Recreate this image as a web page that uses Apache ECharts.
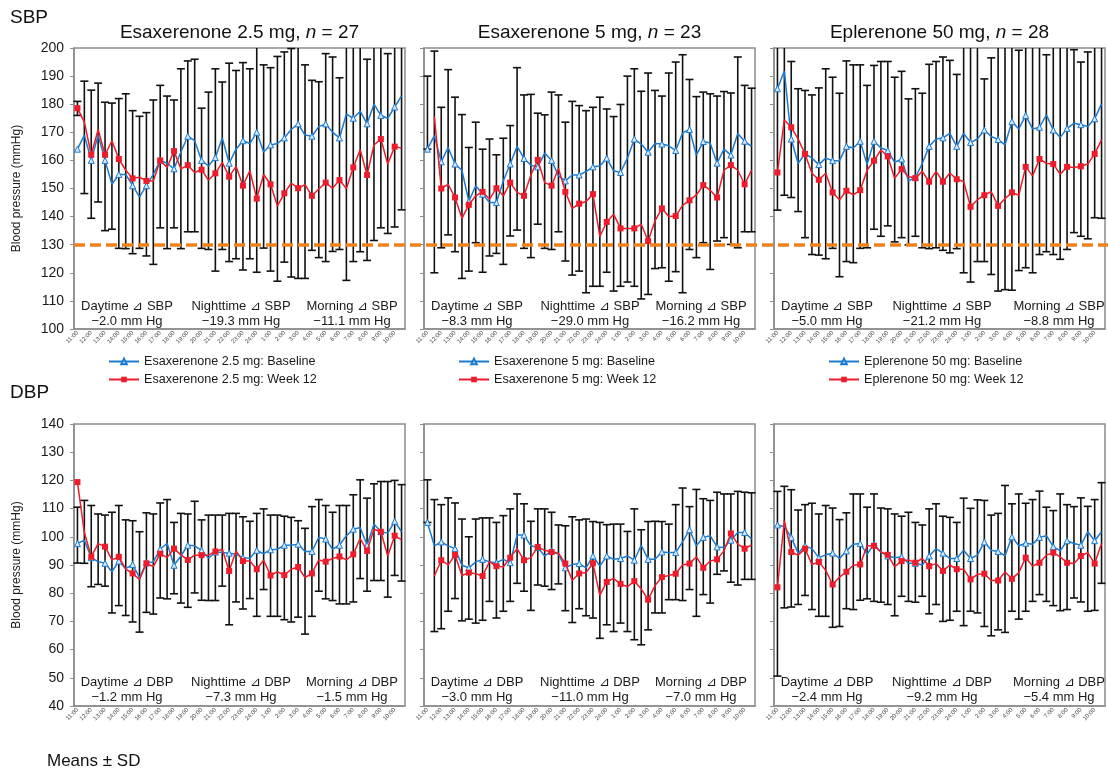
<!DOCTYPE html>
<html lang="en">

<head>
  <meta charset="UTF-8">
  <title>Ambulatory blood pressure</title>
  <style media="screen">
    html, body { margin: 0; padding: 0; background: #fff; }
  </style>
</head>

<body>
  <div id="main" style="width:1108px;height:772px;"></div>
</body>
<script src="https://cdn.jsdelivr.net/npm/echarts@6/dist/echarts.min.js"></script>

<script>
  // half-hour time points, 11:00 .. 10:30
  var hours = ['11:00', '11:30', '12:00', '12:30', '13:00', '13:30', '14:00', '14:30', '15:00', '15:30',
    '16:00', '16:30', '17:00', '17:30', '18:00', '18:30', '19:00', '19:30', '20:00', '20:30',
    '21:00', '21:30', '22:00', '22:30', '23:00', '23:30', '24:00', '24:30', '1:00', '1:30',
    '2:00', '2:30', '3:00', '3:30', '4:00', '4:30', '5:00', '5:30', '6:00', '6:30',
    '7:00', '7:30', '8:00', '8:30', '9:00', '9:30', '10:00', '10:30'];

  var sbpTicks = [100, 200, 10];
  var dbpTicks = [40, 140, 10];
  var targetSbp = 130;

  // SBP, esaxerenone 2.5 mg
  var sbpEsa25Base = [164, 169, 160, 169, 160, 151.5, 155, 155, 151, 147, 151, 155, 160, 159, 157, 163, 168.6, 167, 160, 158, 161, 168, 159, 164, 167, 166, 170, 163, 165.5, 166, 168, 171, 173, 169, 168.6, 172, 173, 170, 168, 176.5, 175, 177.5, 173, 180, 176, 175, 179, 183];
  var sbpEsa25Wk12 = [178.6, 173.6, 162, 171, 162, 167, 160.5, 156.5, 153.6, 154, 152.7, 152.7, 160, 157.5, 163.3, 157, 158.3, 155.7, 156.7, 153, 155.4, 159.3, 154.2, 157.9, 151, 156.3, 146.4, 155, 151.5, 143.8, 148.3, 151.9, 150.1, 151.4, 147.4, 149.8, 152.1, 150.1, 153, 150, 157.5, 163.8, 154.8, 165.5, 167.6, 158.7, 164.9, 164.4];
  var sbpEsa25Hi = [181, 188.2, 185, 187.5, 180.7, 180.4, 182, 183.7, 177.7, 175.7, 177, 181.5, 186.7, 182.9, 181.5, 192.6, 195.4, 196, 178.6, 184.3, 192.6, 187.9, 194.6, 192, 194.8, 192.6, 203, 194, 193, 197, 198.6, 199.8, 201, 194, 188.5, 188, 198, 196.8, 189.4, 204, 206, 203, 196, 205, 200.7, 198, 204, 208];
  var sbpEsa25Lo = [176, 148.2, 139.4, 145.2, 135, 135.5, 128.7, 128.6, 126.8, 128.7, 126, 123, 136, 128.6, 136, 128.6, 134.6, 134.6, 128.7, 128.3, 120.6, 128.3, 124, 125, 121, 125, 120.2, 128.8, 120.6, 117, 123.8, 118.5, 118, 118, 128, 125.4, 124, 127.6, 128.3, 117.3, 124, 127.5, 124.4, 131.5, 136, 134, 136.3, 142.4];

  // SBP, esaxerenone 5 mg
  var sbpEsa5Base = [164, 168.8, 159.5, 164.6, 158.7, 156.5, 145.4, 151, 148, 145, 145, 152.7, 158.7, 165, 160.7, 158.3, 157.7, 162.6, 160, 154.5, 152.7, 154.8, 154.8, 156, 157.7, 158, 160.8, 156.3, 155.7, 160.8, 167.6, 165.8, 162.9, 166, 165.8, 165.2, 163.5, 169.8, 171, 161.9, 166.7, 166.2, 159, 164, 161.9, 169.6, 166.8, 165];
  var sbpEsa5Wk12 = [null, 175.6, 150, 151.5, 146.8, 139.4, 144.2, 147.4, 148.8, 146.2, 150.1, 147.4, 152.1, 148.6, 147.4, 154.8, 160.2, 152.1, 151, 157.1, 148.8, 142.9, 144.6, 145.4, 148, 132.9, 138.1, 140.8, 135.8, 135.8, 135.8, 137.3, 131.3, 138.5, 142.9, 140, 140.2, 144, 145.8, 147.7, 151.2, 149.4, 146.8, 156.5, 158.3, 156.5, 151.5, 156.5];
  var sbpEsa5Hi = [190, 198.9, 178.9, 192.3, 182.5, 176.3, 164.6, 173.6, 164, 167.6, 162, 167.9, 172.4, 193, 183.3, 183.5, 176.8, 176.2, 184.3, 183.3, 173.6, 181, 179.5, 177.7, 178.9, 182.5, 178.3, 175.6, 179.9, 190, 192.6, 184.6, 191.1, 184.9, 182.9, 191.1, 195, 197.6, 188.8, 182.7, 184.3, 183.7, 182.9, 184.5, 184, 196.8, 186.7, 185.7];
  var sbpEsa5Lo = [164, 120, 128.9, 133.5, 127.5, 118, 120.6, 130.7, 120.2, 126, 126.9, 123, 133.1, 135.2, 128.7, 125.4, 137.3, 128.7, 128.3, 134.6, 124.2, 119.2, 120.6, 112.9, 115.2, 115.2, 120.2, 113.5, 115.2, 116.7, 115.2, 110.7, 112.3, 121.5, 121.8, 117, 120.4, 112.9, 128.3, 125.4, 130.7, 121.2, 131.3, 132.5, 130.1, 128.9, 134.6, 134.6];

  // SBP, eplerenone 50 mg
  var sbpEpl50Base = [185.5, 191.8, 167.6, 158.9, 162.5, 160.8, 158.5, 160.8, 159.9, 159.9, 165, 164.4, 166.8, 158.5, 166.8, 164.4, 163.5, 159.3, 160.5, 152.7, 153.9, 158.9, 165, 167.6, 168, 169.6, 165, 169.6, 166.4, 167.6, 170.8, 168.5, 167.4, 165.5, 173.8, 171.2, 176, 171.2, 171.8, 176.2, 170.8, 168.2, 171.4, 173.2, 172.7, 172.1, 174.8, 180.1];
  var sbpEpl50Wk12 = [155.7, 174.4, 171.8, 167.6, 162.3, 155.4, 153.1, 155.4, 148.6, 146, 149.2, 147.7, 149.4, 156.5, 159.9, 163.7, 161.4, 153.6, 156.9, 154.2, 153.7, 156.1, 152.4, 156.1, 152.4, 155.5, 153.3, 152.5, 143.5, 146, 147.6, 148.9, 143.8, 146.4, 148.6, 147.6, 157.7, 154.5, 160.5, 158.9, 158.7, 155.1, 157.7, 157.5, 157.9, 158.7, 162.3, 167.3];
  var sbpEpl50Hi = [205, 212, 195.2, 185.5, 184.9, 183.3, 185.8, 192.6, 189.6, 183.9, 195.4, 194, 194, 186.7, 193.8, 195.2, 195.2, 189.6, 191.7, 181.9, 185.5, 183.9, 194.2, 195.2, 196.8, 195.6, 190.6, 205, 200.4, 203, 189, 196.5, 205, 205, 205, 199.2, 202, 204, 206, 197.6, 204, 206, 204, 199.4, 195, 198.6, 200.4, 208];
  var sbpEpl50Lo = [142.3, 147.6, 146.8, 141.8, 132.5, 126.5, 126.3, 125, 128.7, 118.6, 124, 123.6, 128.7, 128.9, 135.5, 133, 136.7, 131, 132.5, 129.9, 133, 128.9, 128.6, 128.9, 128, 127.1, 128.6, 120, 116.7, 124, 124, 119.4, 113.5, 114, 113.8, 120.8, 121.8, 120, 126.5, 127.5, 126.5, 124.8, 128.3, 134.3, 133, 132.1, 139.6, 139.4];

  // DBP, esaxerenone 2.5 mg
  var dbpEsa25Base = [97.6, 98.8, 92.6, 91.2, 90.6, 87.6, 91.4, 88.7, 90.2, 85.5, 90.8, 91.1, 95.6, 97.7, 89.9, 93.2, 97, 96.8, 95.2, 92.4, 94.6, 94.4, 94.2, 93.8, 92.6, 92.4, 95.2, 94, 95.4, 95.6, 97, 97, 97.4, 94.8, 94.8, 99.8, 99.2, 95.6, 97, 100.4, 102.7, 103.3, 97, 104.5, 101.8, 101.3, 105.5, 101.8];
  var dbpEsa25Wk12 = [119.4, 101.5, 92.9, 97.6, 96.5, 91.8, 92.9, 88.5, 87, 84.9, 90.6, 89.4, 94, 92.6, 95.8, 93.6, 91.8, 93.5, 93.5, 93.5, 94.8, 95.6, 87.9, 95, 91.4, 91.4, 88.5, 91.7, 86.3, 87.6, 86.4, 88.5, 89.3, 85.5, 87, 91.8, 91.2, 92.3, 93, 91.8, 93.8, 99.4, 95, 102.7, 101.8, 93.2, 100.4, 98.9];
  var dbpEsa25Hi = [110.5, 112.9, 111.1, 108.1, 107.7, 108.7, 111.1, 106, 105.7, 101.8, 108.5, 108.1, 112, 113.2, 105.1, 108.3, 108.1, 112.6, 106, 107.7, 107.7, 107.7, 108.3, 108.3, 107.1, 105.5, 108.3, 109.9, 107.7, 107.7, 107.3, 106.9, 105.7, 103, 110.7, 113.2, 111.1, 108.7, 111.1, 111.1, 114.9, 120.2, 113.7, 118.8, 119.6, 119.6, 120, 118.5];
  var dbpEsa25Lo = [90.7, 90.6, 82.3, 83.1, 82.5, 73, 75.6, 72.1, 69.8, 66.2, 73.2, 72.6, 78.3, 78, 79.8, 76.5, 75, 80.1, 77.5, 77.4, 77.4, 82.5, 68.8, 76.9, 74.4, 78.1, 71.8, 81.3, 71.8, 71.8, 70.6, 69.8, 71.5, 65.5, 71.8, 80.7, 78, 77.4, 76.2, 76.2, 76.9, 85.2, 80.7, 84.5, 84.5, 78.6, 86.3, 84.3];

  // DBP, esaxerenone 5 mg
  var dbpEsa5Base = [105.1, 96.8, 98.2, 96.8, 95.8, 89.9, 89, 91.1, 92, 91.1, 90.8, 92, 90.8, 100.6, 100.6, 96.8, 96.2, 93.2, 95, 93.8, 89, 90.2, 90.5, 89, 93.2, 89.6, 93.2, 92, 92.3, 93.2, 91.7, 97, 92, 92, 94.6, 94.4, 94.4, 98.2, 102.5, 96.8, 99.8, 100.4, 96.4, 96.2, 98.8, 101.5, 101.5, 99.2];
  var dbpEsa5Wk12 = [null, 86.1, 91.7, 90, 93.6, 86.3, 87.3, 86.9, 86.1, 91.2, 89.6, 89.3, 92.6, 95.8, 91.7, 92.6, 96.4, 95.2, 94.6, 94.2, 90.5, 84.6, 87, 87.3, 90.6, 79.2, 84, 85.2, 83.3, 82.3, 84.3, 81.5, 77.7, 82.7, 85.7, 86.3, 86.9, 90, 90.5, 92.9, 89, 91.4, 92, 95, 101.2, 97.4, 95.8, 97.1];
  var dbpEsa5Hi = [120.2, 113.2, 111.4, 113.8, 112, 106.3, 100, 106.3, 106.7, 106.7, 105.1, 107.5, 109.9, 115.2, 111.7, 105.5, 109.9, 109.9, 108.7, 104.2, 103.9, 107.1, 106, 106.3, 105.4, 105.1, 104.3, 104.5, 104.5, 101.9, 109.9, 102.5, 105.4, 105.5, 105.4, 104.5, 111.4, 117.3, 110.7, 116.8, 113.5, 112.9, 115.8, 115.2, 115.2, 116.1, 115.8, 115.6];
  var dbpEsa5Lo = [105.1, 66.4, 67.4, 73.6, 78.1, 70.2, 70.8, 69.4, 70.4, 77.1, 71.2, 73.6, 77.1, 83.5, 80.7, 73.9, 82.9, 82.5, 81.3, 83.3, 73.8, 69.6, 74.5, 72, 71.2, 64, 68.8, 66.4, 69.4, 66.4, 63.5, 61.7, 67, 73, 73, 77.7, 77.7, 77.4, 81.3, 71.8, 79.5, 76.5, 86.7, 87.9, 83.9, 82.9, 84.9, 84.9];

  // DBP, eplerenone 50 mg
  var dbpEpl50Base = [104.2, 103.6, 99.8, 94.2, 96.8, 95.8, 92.6, 93.6, 94.2, 92.3, 95, 97.4, 97.6, 93.8, 97.4, 94.6, 93.2, 92.6, 92.9, 90.6, 90.6, 90, 93.2, 95.8, 94.2, 92.3, 92.3, 95.2, 92.3, 93.5, 98.2, 95.2, 94.8, 93.2, 100, 96.8, 97.7, 97.4, 99.8, 100.4, 96.5, 95, 98.6, 97.6, 97, 101.8, 98.6, 101.8];
  var dbpEpl50Wk12 = [82.1, 105.7, 94.6, 93.5, 95.8, 90.2, 91.1, 88.1, 83.1, 85.7, 87.6, 89.9, 90.2, 96.8, 96.8, 94.6, 93.6, 89.4, 91.4, 91.8, 90.8, 92.3, 89.6, 90.5, 87.9, 90, 88.5, 88.5, 84.9, 86.7, 86.9, 84.5, 84.5, 87.5, 85.1, 87.3, 92.6, 89.6, 90.8, 93.5, 94.4, 92.9, 90.8, 90.5, 93.2, 94.4, 90.5, 97.6];
  var dbpEpl50Hi = [116.1, 117.9, 116.7, 109.5, 111.4, 111.9, 108.1, 111.1, 110.2, 106.1, 108.5, 115.2, 115.2, 110.5, 115.2, 110.2, 109.9, 108.1, 107.3, 108.7, 105.1, 104.2, 109.9, 111.7, 107.3, 106.9, 105.1, 113.7, 110.1, 113.1, 112.9, 107.7, 108.3, 118.2, 111.7, 115.2, 111.9, 113.2, 116.2, 110.5, 109.3, 115.2, 111.4, 110.7, 113.8, 110.8, 113.2, 119.2];
  var dbpEpl50Lo = [50.6, 74.8, 75.1, 76, 79.2, 74.2, 71.8, 71.8, 67.9, 68.2, 74.5, 74.2, 77.5, 78, 77.1, 76.8, 76, 72, 78.9, 77.1, 76.8, 78.9, 72.7, 76, 70, 70.4, 73.6, 68.5, 73.6, 73, 68.2, 64.9, 67, 66.1, 73.6, 70.8, 73.6, 77.1, 79.5, 77.1, 75.6, 73.8, 74.2, 78.3, 76.9, 73.6, 73.9, 83.5];

  var drugs = ['Esaxerenone 2.5 mg', 'Esaxerenone 5 mg', 'Eplerenone 50 mg'];
  var nPatients = [27, 23, 28];
  // change in daytime / nighttime / morning (mm Hg)
  var sbpDeltas = [[-2.0, -19.3, -11.1], [-8.3, -29.0, -16.2], [-5.0, -21.2, -8.8]];
  var dbpDeltas = [[-1.2, -7.3, -1.5], [-3.0, -11.0, -7.0], [-2.4, -9.2, -5.4]];

  var myChart = echarts.init(document.getElementById('main'));

  var FONT = '"Liberation Sans", Arial, sans-serif';
  var BLUE = '#1c7bcf';
  var RED = '#ee1c2a';
  var FRAME = '#8c8c8c';

  var colLeft = [74, 424, 774];
  var colWidth = 331;
  var rowTop = [48, 424];
  var rowHeight = [281, 282];
  var noteX = [[53, 167, 278], [53, 166, 277], [53, 168, 285]];

  var panels = [
    { base: sbpEsa25Base, wk12: sbpEsa25Wk12, hi: sbpEsa25Hi, lo: sbpEsa25Lo },
    { base: sbpEsa5Base, wk12: sbpEsa5Wk12, hi: sbpEsa5Hi, lo: sbpEsa5Lo },
    { base: sbpEpl50Base, wk12: sbpEpl50Wk12, hi: sbpEpl50Hi, lo: sbpEpl50Lo },
    { base: dbpEsa25Base, wk12: dbpEsa25Wk12, hi: dbpEsa25Hi, lo: dbpEsa25Lo },
    { base: dbpEsa5Base, wk12: dbpEsa5Wk12, hi: dbpEsa5Hi, lo: dbpEsa5Lo },
    { base: dbpEpl50Base, wk12: dbpEpl50Wk12, hi: dbpEpl50Hi, lo: dbpEpl50Lo }
  ];

  // SD whisker, clipped at the top of the plot without a cap
  function renderBar(params, api) {
    var cs = params.coordSys;
    var top = api.coord([api.value(0), api.value(1)]);
    var bot = api.coord([api.value(0), api.value(2)]);
    var x = top[0];
    var y1 = top[1], y2 = bot[1];
    var capTop = y1 >= cs.y;
    if (!capTop) y1 = cs.y;
    var st = { stroke: '#111', lineWidth: 1.6 };
    var kids = [{ type: 'line', shape: { x1: x, y1: y1, x2: x, y2: y2 }, style: st }];
    if (capTop) kids.push({ type: 'line', shape: { x1: x - 4, y1: y1, x2: x + 4, y2: y1 }, style: st });
    kids.push({ type: 'line', shape: { x1: x - 4, y1: y2, x2: x + 4, y2: y2 }, style: st });
    return { type: 'group', children: kids };
  }

  var grid = [], xAxis = [], yAxis = [], series = [], legend = [], graphic = [];

  panels.forEach(function (p, k) {
    var row = Math.floor(k / 3), col = k % 3;
    var ticks = row === 0 ? sbpTicks : dbpTicks;
    grid.push({
      left: colLeft[col], top: rowTop[row], width: colWidth, height: rowHeight[row],
      show: true, borderColor: FRAME, borderWidth: 1.5, backgroundColor: 'transparent'
    });
    xAxis.push({
      type: 'category', gridIndex: k, data: hours, boundaryGap: true,
      axisLine: { lineStyle: { color: FRAME, width: 1.5 } },
      axisTick: { show: false },
      axisLabel: { interval: 1, rotate: 45, fontSize: 6, color: '#444', margin: 3, fontFamily: FONT }
    });
    yAxis.push({
      type: 'value', gridIndex: k, min: ticks[0], max: ticks[1], interval: ticks[2],
      splitLine: { show: false },
      axisLine: { show: true, lineStyle: { color: FRAME, width: 1.5 } },
      axisTick: { show: true, length: 4, lineStyle: { color: FRAME } },
      axisLabel: { show: col === 0, fontSize: 14, color: '#1a1a1a', margin: 10, fontFamily: FONT },
      name: col === 0 ? 'Blood pressure (mmHg)' : '',
      nameLocation: 'middle', nameGap: 51,
      nameTextStyle: { fontSize: 12, color: '#1a1a1a', fontFamily: FONT }
    });

    var bars = p.hi.map(function (h, i) { return [i, h, p.lo[i]]; });
    series.push({
      type: 'custom', xAxisIndex: k, yAxisIndex: k, z: 1, silent: true,
      renderItem: renderBar, encode: { x: 0, y: [1, 2] }, data: bars
    });
    series.push({
      type: 'line', name: drugs[col] + ': Baseline', xAxisIndex: k, yAxisIndex: k, z: 3,
      data: p.base, symbol: 'triangle', symbolSize: 6,
      lineStyle: { color: BLUE, width: 1.5 },
      itemStyle: { color: '#d6e8f8', borderColor: BLUE, borderWidth: 1 }
    });
    series.push({
      type: 'line', name: drugs[col] + ': Week 12', xAxisIndex: k, yAxisIndex: k, z: 4,
      data: p.wk12, symbol: 'rect', symbolSize: 6,
      lineStyle: { color: RED, width: 1.5 },
      itemStyle: { color: RED }
    });

    // delta annotations inside the panel
    var lbl = row === 0 ? 'SBP' : 'DBP';
    var deltas = row === 0 ? sbpDeltas[col] : dbpDeltas[col];
    var y0 = row === 0 ? 313.5 : 689.5;
    ['Daytime', 'Nighttime', 'Morning'].forEach(function (period, j) {
      graphic.push({
        type: 'text', x: colLeft[col] + noteX[col][j], y: y0, z: 10,
        style: {
          text: period + ' \u22BF ' + lbl + '\n' + (deltas[j] < 0 ? '\u2212' : '') + Math.abs(deltas[j]).toFixed(1) + ' mm Hg',
          fill: '#1a1a1a', fontSize: 13, fontFamily: FONT, lineHeight: 15,
          align: 'center', verticalAlign: 'middle'
        }
      });
    });
  });

  // titles above the SBP panels and legends below them
  drugs.forEach(function (d, col) {
    graphic.push({
      type: 'text', x: colLeft[col] + colWidth / 2, y: 33,
      style: {
        text: d + ', {i|n} = ' + nPatients[col], fill: '#111', fontSize: 19, fontFamily: FONT,
        align: 'center', verticalAlign: 'middle',
        rich: { i: { fontStyle: 'italic', fontSize: 19, fontFamily: FONT, fill: '#111' } }
      }
    });
    legend.push({
      data: [d + ': Baseline', d + ': Week 12'],
      left: [108, 458, 828][col], top: 355, orient: 'vertical', padding: 0,
      itemWidth: 30, itemHeight: 7, itemGap: 5,
      textStyle: { fontSize: 12.6, color: '#1a1a1a', fontFamily: FONT }
    });
  });

  // full-width grid for the 130 mmHg reference line
  grid.push({ left: 74, right: 0, top: rowTop[0], height: rowHeight[0], show: false });
  xAxis.push({ type: 'value', gridIndex: 6, min: 0, max: 1, show: false });
  yAxis.push({ type: 'value', gridIndex: 6, min: sbpTicks[0], max: sbpTicks[1], show: false });
  series.push({
    type: 'line', xAxisIndex: 6, yAxisIndex: 6, data: [], z: 6, silent: true,
    markLine: {
      silent: true, symbol: 'none', label: { show: false },
      lineStyle: { color: '#f0821e', width: 3.5, type: [11, 5] },
      data: [{ yAxis: targetSbp }]
    }
  });

  graphic.push(
    { type: 'text', x: 10, y: 18, style: { text: 'SBP', fontSize: 19, fill: '#111', fontFamily: FONT, verticalAlign: 'middle' } },
    { type: 'text', x: 10, y: 393, style: { text: 'DBP', fontSize: 19, fill: '#111', fontFamily: FONT, verticalAlign: 'middle' } },
    { type: 'text', x: 47, y: 761, style: { text: 'Means \u00B1 SD', fontSize: 17, fill: '#111', fontFamily: FONT, verticalAlign: 'middle' } }
  );

  myChart.setOption({
    backgroundColor: '#fff',
    animation: false,
    textStyle: { fontFamily: FONT },
    grid: grid,
    xAxis: xAxis,
    yAxis: yAxis,
    legend: legend,
    series: series,
    graphic: graphic
  });
</script>

</html>
